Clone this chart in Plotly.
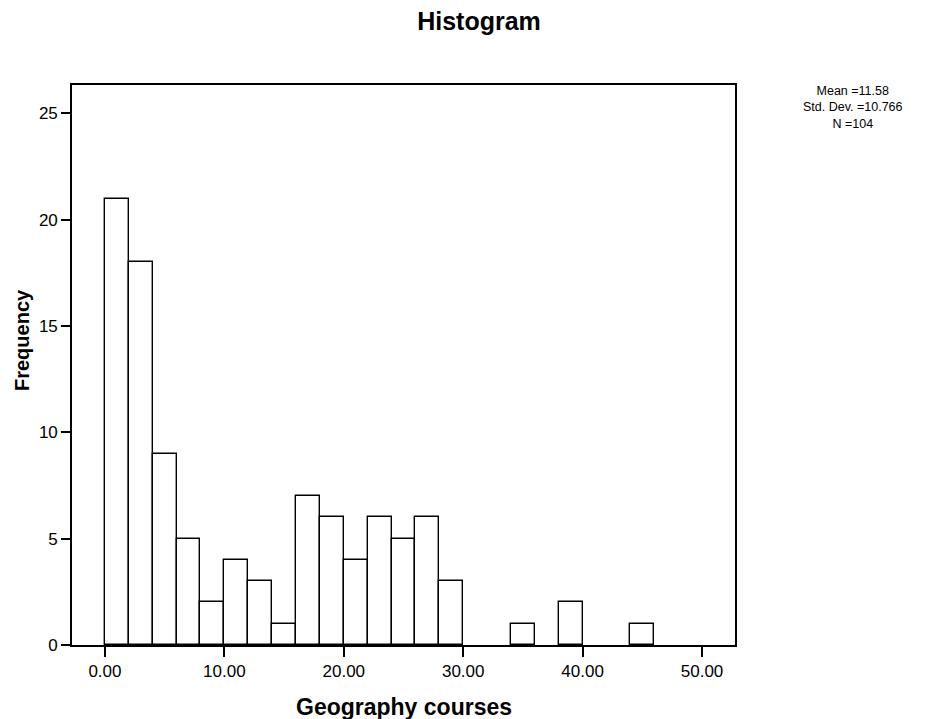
import plotly.graph_objects as go

# Histogram data (bin width 2)
bin_starts = [0, 2, 4, 6, 8, 10, 12, 14, 16, 18, 20, 22, 24, 26, 28, 30, 32, 34, 36, 38, 40, 42, 44]
counts = [21, 18, 9, 5, 2, 4, 3, 1, 7, 6, 4, 6, 5, 6, 3, 0, 0, 1, 0, 2, 0, 0, 1]
bin_width = 2
x_ticks = [0, 10, 20, 30, 40, 50]
y_ticks = [0, 5, 10, 15, 20, 25]
stats_lines = ["Mean =11.58", "Std. Dev. =10.766", "N =104"]

FONT = "Liberation Sans, Arial, sans-serif"
OFF = 8  # page body margin

W, H = 925 - OFF, 719 - OFF
L, R, T, B = 72 - OFF, 735 - OFF, 85 - OFF, 645 - OFF  # plot area in figure px

fig = go.Figure()
fig.add_trace(go.Bar(
    x=[b + bin_width / 2 for b, c in zip(bin_starts, counts) if c > 0],
    y=[c for c in counts if c > 0],
    width=bin_width,
    marker=dict(color="white", line=dict(color="black", width=1.4)),
    showlegend=False,
))

fig.update_layout(
    width=W, height=H,
    margin=dict(l=L, r=W - R, t=T, b=H - B, pad=0),
    paper_bgcolor="white", plot_bgcolor="white",
    font=dict(family=FONT, color="black"),
    title=dict(text="<b>Histogram</b>", x=(479 - OFF) / W, xanchor="center",
               y=1 - (21 - OFF) / H, yanchor="middle", yref="container",
               font=dict(size=25, family=FONT, color="black")),
    bargap=0,
)
fig.update_xaxes(
    range=[-2.76, 52.76], tickvals=x_ticks,
    ticktext=[f"{v:.2f}" for v in x_ticks],
    showline=True, mirror=True, linecolor="black", linewidth=1.6,
    ticks="outside", ticklen=10, tickwidth=1.6, tickcolor="black",
    showgrid=False, zeroline=False,
    tickfont=dict(size=17, family=FONT, color="black"),
)
fig.update_yaxes(
    range=[0, 26.34], tickvals=y_ticks,
    ticktext=[str(v) for v in y_ticks],
    showline=True, mirror=True, linecolor="black", linewidth=1.6,
    ticks="outside", ticklen=9, tickwidth=1.6, tickcolor="black",
    showgrid=False, zeroline=False,
    tickfont=dict(size=17, family=FONT, color="black"),
)
fig.add_annotation(text="<b>Geography courses</b>", xref="paper", yref="paper",
                   x=(404 - 72) / 663, y=(645 - 707) / 560, xanchor="center", yanchor="middle",
                   showarrow=False, font=dict(size=23, family=FONT, color="black"))
fig.add_annotation(text="<b>Frequency</b>", xref="paper", yref="paper",
                   x=(22 - 72) / 663, y=(645 - 340) / 560, xanchor="center", yanchor="middle",
                   textangle=-90, showarrow=False,
                   font=dict(size=20, family=FONT, color="black"))
fig.add_annotation(text="<br>".join(stats_lines), xref="paper", yref="paper",
                   x=(853 - 72) / 663, y=(645 - 108) / 560, xanchor="center", yanchor="middle",
                   align="center", showarrow=False, borderpad=0,
                   font=dict(size=12.5, family=FONT, color="black"))

fig.write_html("out.html")
